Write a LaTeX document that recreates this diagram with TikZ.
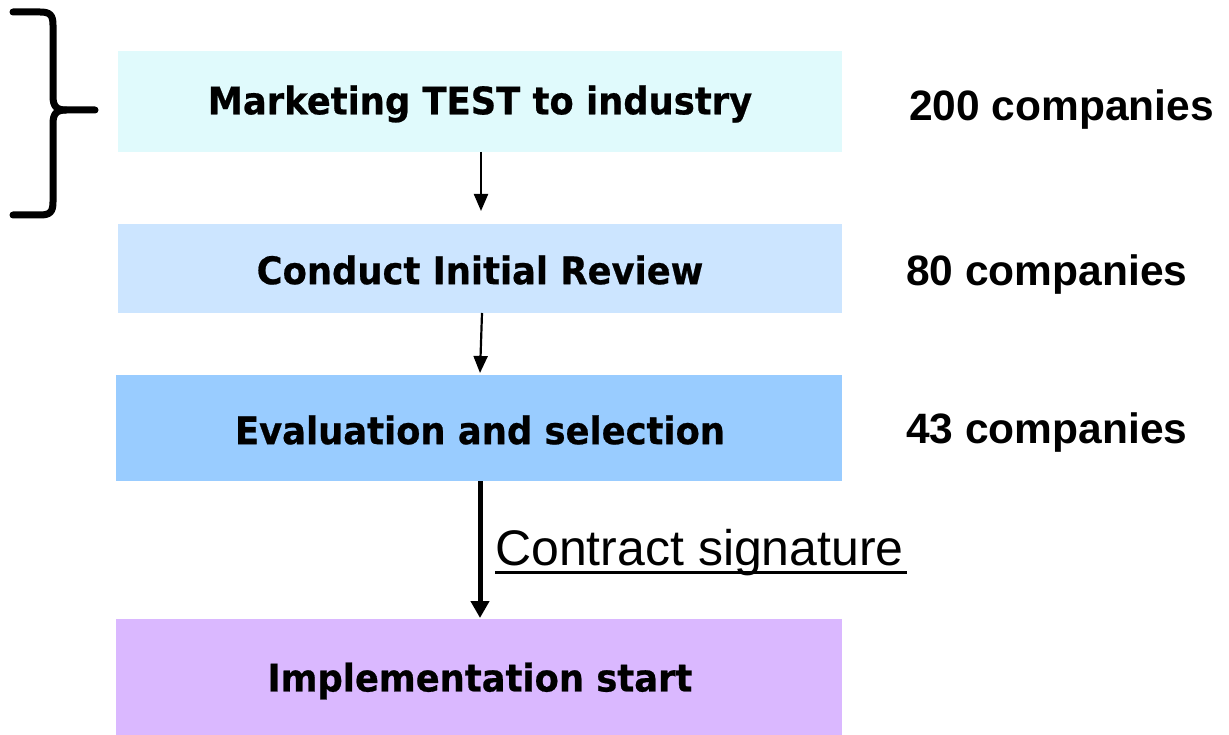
\documentclass[tikz,border=0pt]{standalone}
\usepackage{fontspec}
\setmainfont{Liberation Sans}
\newfontfamily\boxfont[FakeStretch=0.93,FakeBold=0.6]{DejaVu Sans}
\usetikzlibrary{arrows.meta}
\definecolor{cA}{HTML}{E0FAFC}
\definecolor{cB}{HTML}{CCE5FF}
\definecolor{cC}{HTML}{99CCFF}
\definecolor{cD}{HTML}{DAB8FF}
\tikzset{
  boxtxt/.style={font=\boxfont\bfseries\fontsize{38}{44}\selectfont, inner sep=0pt},
  cnt/.style={font=\bfseries\fontsize{42.5}{48}\selectfont, anchor=west, inner sep=0pt},
  thinarrow/.style={line width=2.2pt, -{Triangle[length=17pt,width=14pt]}},
  thickarrow/.style={line width=5pt, -{Triangle[length=17pt,width=18pt]}},
}
\begin{document}
\begin{tikzpicture}[x=1pt,y=-1pt]
\useasboundingbox (0,0) rectangle (1229,735);
% boxes
\path[fill=cA] (118,51) rectangle (842,152);
\path[fill=cB] (118,224) rectangle (842,313);
\path[fill=cC] (116,375) rectangle (842,481);
\path[fill=cD] (116,619) rectangle (842,735);
\coordinate (b1s) at (481,152);
\coordinate (b2n) at (481,224);
\coordinate (b2s) at (482,313);
\coordinate (b3n) at (480,375);
\coordinate (b3s) at (480,481);
\coordinate (b4n) at (480,619);
\node[boxtxt] (t1) at (480,104) {Marketing TEST to industry};
\node[boxtxt] (t2) at (480,270) {Conduct Initial Review};
\node[boxtxt] (t3) at (480,430) {Evaluation and selection};
\node[boxtxt] (t4) at (480,681) {Implementation start};
% counts
\node[cnt] (n1) at (909,110) {200 companies};
\node[cnt] (n2) at (906,275) {80 companies};
\node[cnt] (n3) at (906,433) {43 companies};
% arrows
\draw[thinarrow] (b1s) -- ([yshift=13pt]b2n);
\draw[thinarrow] (b2s) -- ([yshift=2pt]b3n);
\draw[thickarrow] (b3s) -- ([yshift=1pt]b4n);
\node[anchor=base west, inner sep=0pt, font=\fontsize{50}{56}\selectfont] (cs) at (495,565) {Contract signature};
\draw[line width=3pt] (495,572) -- (907,572);
% brace
\draw[line width=7pt, line cap=round, line join=round]
  (13,12) -- (40,12) .. controls (50,12) and (53,15) .. (53,25)
  -- (53,96) .. controls (53,106) and (56,110) .. (66,110) -- (95,110);
\draw[line width=7pt, line cap=round, line join=round]
  (66,110) .. controls (56,110) and (53,114) .. (53,124)
  -- (53,202) .. controls (53,212) and (50,215) .. (40,215) -- (13,215);
\end{tikzpicture}
\end{document}
